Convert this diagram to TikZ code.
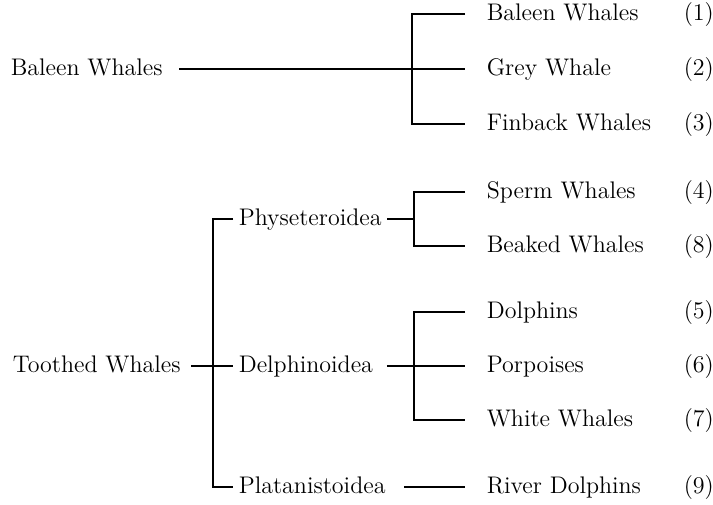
\documentclass[tikz,border=0pt]{standalone}
\usetikzlibrary{calc}
\begin{document}
\begin{tikzpicture}[x=0.5pt,y=-0.5pt,line width=0.8pt,
    every node/.style={font=\fontsize{12}{14}\selectfont,inner ysep=0pt,text height=0.68em,text depth=0pt},
    leaf/.style={anchor=west,inner xsep=10.5pt},
    group/.style={anchor=west,inner xsep=2.5pt},
    num/.style={anchor=west,inner xsep=0pt}]
    \useasboundingbox (0,0) rectangle (713,504);
    % leaves with their numbers
    \foreach \name/\num/\y [count=\i] in {Baleen Whales/1/14,Grey Whale/2/69,Finback Whales/3/124,Sperm Whales/4/192,Beaked Whales/8/246,Dolphins/5/312,Porpoises/6/366,White Whales/7/420,River Dolphins/9/487}
    {
    \node[leaf] (l\i) at (465,\y) {\name};
    \node[num] (n\i) at (683,\y) {(\num)};
    }
    % baleen whales
    \node[group] (bw) at (5,69) {Baleen Whales};
    \coordinate (bb) at (412,69);
    \draw[shorten <=5.5pt] (bw.east) -- (l2.west);
    \draw (l1.west) -| (bb) |- (l3.west);
    % toothed whales
    \node[group] (tw) at (7,366) {Toothed Whales};
    \node[group] (phy) at (233,219) {Physeteroidea};
    \node[group] (del) at (233,366) {Delphinoidea};
    \node[group] (pla) at (233,487) {Platanistoidea};
    \coordinate (tb) at (213,366);
    \coordinate (pb) at (414,219);
    \coordinate (db) at (414,366);
    \draw[shorten <=2.5pt] (tw.east) -- (del.west);
    \draw (phy.west) -| (tb) |- (pla.west);
    \draw (phy.east) -- (pb);
    \draw (l4.west) -| (pb) |- (l5.west);
    \draw[shorten <=4pt] (del.east) -- (l7.west);
    \draw (l6.west) -| (db) |- (l8.west);
    \draw[shorten <=6.5pt] (pla.east) -- (l9.west);
\end{tikzpicture}
\end{document}
